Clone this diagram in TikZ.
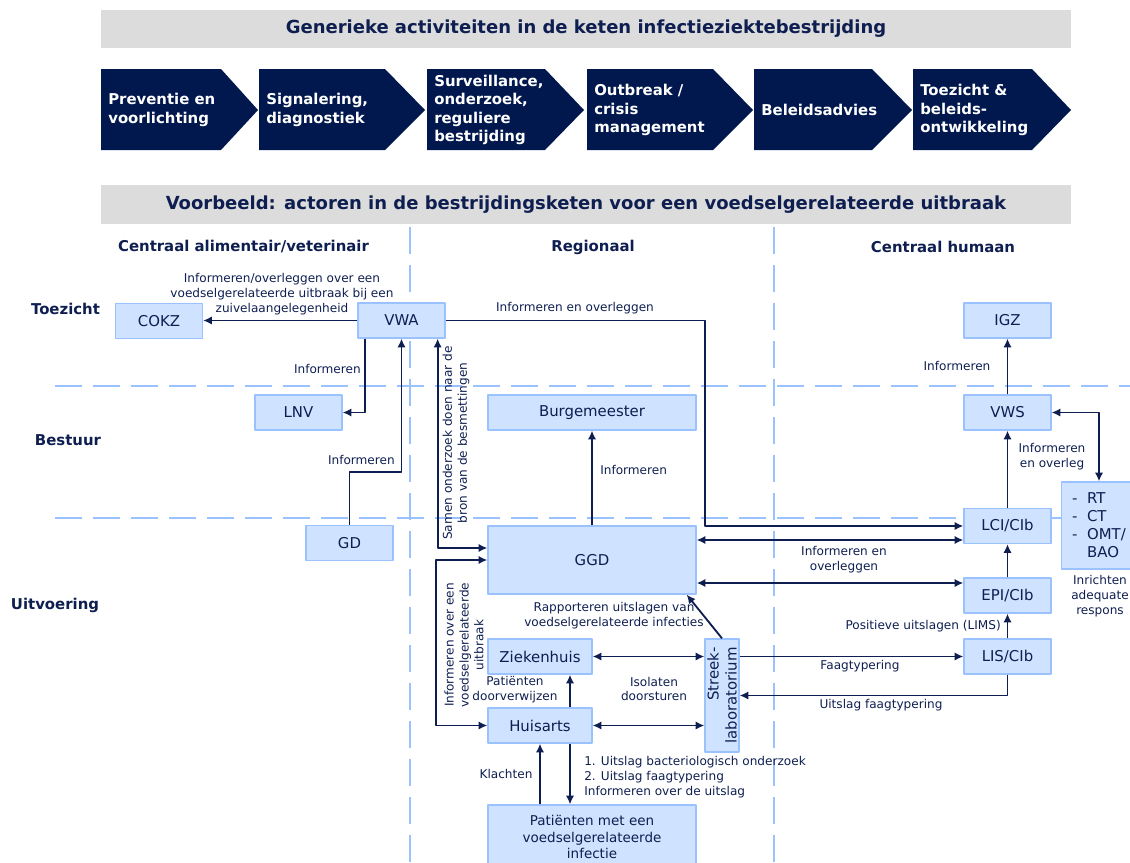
\documentclass[tikz,border=0pt]{standalone}
\usepackage{fontspec}
\setmainfont{DejaVu Sans}
\usetikzlibrary{arrows.meta}
\definecolor{navy}{RGB}{0,24,77}
\definecolor{ink}{RGB}{14,30,80}
\definecolor{boxfill}{RGB}{207,226,255}
\definecolor{boxline}{RGB}{153,194,255}
\definecolor{barfill}{RGB}{220,220,220}
\tikzset{
  box/.style={draw=boxline, fill=boxfill, line width=0.9pt, text=ink, inner sep=1pt, align=center,
    font=\fontsize{10.6}{12.8}\selectfont},
  small/.style={minimum width=2.175cm, minimum height=0.875cm},
  lbl/.style={text=ink, inner sep=0pt, align=center, font=\fontsize{8.6}{10.6}\selectfont},
  hdr/.style={text=ink, inner sep=0pt, font=\fontsize{10.6}{12.8}\selectfont\bfseries},
  bar/.style={fill=barfill, minimum width=24.25cm, text=ink, font=\fontsize{12.8}{15}\selectfont\bfseries},
  lane/.style={draw=boxline, line width=2.1pt, dash pattern=on 0.675cm off 0.275cm},
  link/.style={draw=ink, line width=1.3pt},
}
\begin{document}
\begin{tikzpicture}[x=0.025cm, y=-0.025cm, line join=round, >={Latex[length=2.2mm,width=2.1mm]}]
\useasboundingbox (0,0) rectangle (1130,862);
\node[bar, minimum height=0.95cm] (bar-gen) at (586,29) {Generieke activiteiten in de keten infectieziektebestrijding};
\foreach \l/\r/\t/\txt [count=\i] in {101/221/258/{Preventie en\\voorlichting},
    259/385/425/{Signalering,\\diagnostiek}, 427/545/584/{Surveillance,\\onderzoek,\\reguliere\\bestrijding},
    587/713/753/{Outbreak /\\crisis\\management}, 754/872/912/{Beleidsadvies},
    913/1032/1071/{Toezicht \&\\beleids-\\ontwikkeling}}{
  \fill[navy] (\l,69) -- (\r,69) -- (\t,110) -- (\r,150) -- (\l,150) -- cycle;
  \node[anchor=west, text=white, inner sep=0pt, align=left, font=\fontsize{10.6}{13}\selectfont\bfseries]
    (act-\i) at (\l+7,110) {\txt};
}
\node[bar, minimum height=0.975cm] (bar-vb) at (586,204.5) {Voorbeeld: actoren in de bestrijdingsketen voor een voedselgerelateerde uitbraak};

\node[hdr] (h-alim) at (243.5,247) {Centraal alimentair/veterinair};
\node[hdr] (h-reg) at (593,247) {Regionaal};
\node[hdr] (h-hum) at (943,247) {Centraal humaan};
\node[hdr] (r-toez) at (65.5,309) {Toezicht};
\node[hdr] (r-best) at (68,440) {Bestuur};
\node[hdr] (r-uitv) at (55,605) {Uitvoering};

\draw[lane] (410,227) -- (410,862);
\draw[lane] (774,227) -- (774,862);
\draw[lane] (55,386) -- (1130,386);
\draw[lane] (55,518) -- (1130,518);

\node[box, small] (cokz) at (159,321) {COKZ};
\node[box, small] (vwa) at (401.5,320.5) {VWA};
\node[box, small] (lnv) at (298.5,412.5) {LNV};
\node[box, small] (gd) at (349.5,543) {GD};
\node[box, small] (igz) at (1007.5,320.5) {IGZ};
\node[box, small] (vws) at (1007.5,412.5) {VWS};
\node[box, small] (lci) at (1007.5,526) {LCI/CIb};
\node[box, small] (epi) at (1007.5,595.5) {EPI/CIb};
\node[box, small] (lis) at (1007.5,656.5) {LIS/CIb};
\node[box, minimum width=5.2cm, minimum height=0.875cm] (burg) at (592,412.5) {Burgemeester};
\node[box, minimum width=5.2cm, minimum height=1.7cm] (ggd) at (592,560) {GGD};
\node[box, minimum width=2.6cm, minimum height=0.875cm] (ziek) at (540,656.5) {Ziekenhuis};
\node[box, minimum width=2.6cm, minimum height=0.875cm] (huis) at (540,725.5) {Huisarts};
\node[box, rotate=90, align=right, minimum width=2.825cm, minimum height=0.85cm] (lab) at (722,695.5) {Streek-\\laboratorium};
\node[box, minimum width=5.2cm, minimum height=1.6cm, font=\fontsize{9.6}{11.7}\selectfont] (pat) at (592,837) {Patiënten met een\\voedselgerelateerde\\infectie};
\node[box, align=left, minimum width=1.875cm, minimum height=2.175cm] (rt) at (1099,525.5)
  {-\ \ RT\\-\ \ CT\\-\ \ OMT/\\\hphantom{-\ \ }BAO};
\node[lbl] (l-rt) at (1100,596) {Inrichten\\adequate\\respons};

\coordinate (k-vwa) at (705,321);
\coordinate (k-ggd) at (436,560);

\draw[link,->] (vwa.west) -- (vwa.west -| cokz.east);
\node[lbl] (l-cokz) at (282,294) {Informeren/overleggen over een\\voedselgerelateerde uitbraak bij een\\zuivelaangelegenheid};
\draw[link,->] ([xshift=0.2cm]vwa.south west) |- (lnv.east);
\node[lbl, anchor=east] (l-lnv) at (361,369) {Informeren};
\draw[link,->] (gd.north) -- ++(0,-52.5) -| (vwa.south);
\node[lbl, anchor=east] (l-gd) at (395,460) {Informeren};
\draw[link,->] (vwa.east) -- (vwa.east -| k-vwa) |- (lci.west);
\node[lbl] (l-vwa) at (575,308) {Informeren en overleggen};
\draw[link,<->] ([xshift=-0.2cm]vwa.south east) |- ([yshift=0.3cm]ggd.west);
\node[lbl, rotate=90] (l-samen) at (456,443) {Samen onderzoek doen naar de\\bron van de besmettingen};
\draw[link,->] (ggd.north) -- (burg.south);
\node[lbl, anchor=west] (l-burg) at (600,470) {Informeren};
\draw[link,<->] ([yshift=0.5cm]ggd.east) -- ([yshift=0.5cm]ggd.east -| lci.west);
\draw[link,<->] ([yshift=-0.575cm]ggd.east) -- ([yshift=-0.575cm]ggd.east -| epi.west);
\node[lbl] (l-epi) at (844,560) {Informeren en\\overleggen};
\draw[link,->] (epi.north) -- (lci.south);
\draw[link,->] (lci.north) -- (vws.south);
\node[lbl] (l-vws) at (1052,456.5) {Informeren\\en overleg};
\draw[link,->] (vws.north) -- (igz.south);
\node[lbl] (l-igz) at (957,366) {Informeren};
\draw[link,<->] (vws.east) -| (rt.north);
\draw[link,->] (lis.north) -- (epi.south);
\node[lbl, anchor=east] (l-lis) at (1001,626) {Positieve uitslagen (LIMS)};
\draw[link,->] (lab.south |- lis.west) -- (lis.west);
\node[lbl] (l-faag) at (860,666) {Faagtypering};
\draw[link,->] (lis.south) |- (lab.south);
\node[lbl] (l-uitslag) at (881,705) {Uitslag faagtypering};
\draw[link,->] (lab.east) -- ([xshift=-0.25cm]ggd.south east);
\node[lbl] (l-rapp) at (614,616) {Rapporteren uitslagen van\\voedselgerelateerde infecties};
\draw[link,<->] (ziek.east) -- (ziek.east -| lab.north);
\draw[link,<->] (huis.east) -- (huis.east -| lab.north);
\node[lbl] (l-iso) at (654,689) {Isolaten\\doorsturen};
\draw[link,->] ([xshift=0.75cm]huis.north) -- ([xshift=0.75cm]ziek.south);
\node[lbl] (l-ziek) at (515,690) {Patiënten\\doorverwijzen};
\draw[link,->] (pat.north -| huis.south) -- (huis.south);
\node[lbl] (l-klacht) at (506,774) {Klachten};
\draw[link,->] ([xshift=0.75cm]huis.south) -- ([xshift=0.75cm]huis.south |- pat.north);
\node[lbl, align=left, anchor=west] (l-pat) at (584,777) {1. Uitslag bacteriologisch onderzoek\\2. Uitslag faagtypering\\Informeren over de uitslag};
\draw[link,<->] (ggd.west) -- (ggd.west -| k-ggd) |- (huis.west);
\node[lbl, rotate=90] (l-huis) at (464,645) {Informeren over een\\voedselgerelateerde\\uitbraak};
\end{tikzpicture}
\end{document}
